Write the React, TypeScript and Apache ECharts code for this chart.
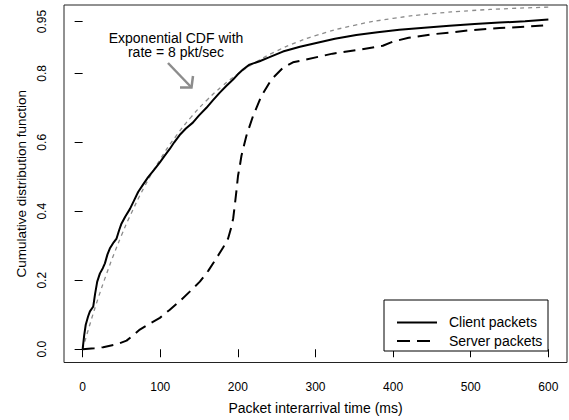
import React, { useEffect, useRef } from "react";
import * as echarts from "echarts";

const xTicks = [0, 100, 200, 300, 400, 500, 600];
const yTicks = [0, 0.2, 0.4, 0.6, 0.8, 0.95];

const clientPackets: [number, number][] = [
  [0, 0], [2, 0.04], [4, 0.071], [7, 0.095], [9.4, 0.11], [13.7, 0.124], [16, 0.16],
  [18.8, 0.196], [22.3, 0.22], [26, 0.235], [28.7, 0.249], [32, 0.275], [35, 0.292],
  [40, 0.31], [43.7, 0.321], [47, 0.345], [50, 0.364], [55, 0.385], [61, 0.407],
  [66, 0.43], [71.5, 0.456], [78, 0.478], [84.4, 0.499], [92, 0.52], [99.5, 0.542],
  [106, 0.562], [112, 0.58], [118, 0.6], [125, 0.621], [133, 0.64], [142, 0.657],
  [150, 0.678], [159.5, 0.7], [168, 0.722], [176.7, 0.744], [185, 0.763], [193.8, 0.782],
  [200, 0.797], [206.6, 0.811], [215, 0.825], [228, 0.835], [240, 0.846], [258, 0.863],
  [280, 0.877], [301, 0.888], [325, 0.9], [352.5, 0.911], [380, 0.919], [408, 0.926],
  [440, 0.932], [472.6, 0.9375], [505, 0.943], [537, 0.947], [570, 0.951], [600, 0.956],
];

const serverPackets: [number, number][] = [
  [0, 0], [15, 0.003], [26.5, 0.006], [43.7, 0.014], [56.6, 0.025], [65, 0.04],
  [73.7, 0.057], [86, 0.074], [99.5, 0.091], [112, 0.114], [125, 0.139], [138, 0.167],
  [151, 0.196], [162, 0.228], [172.4, 0.264], [181, 0.295], [187.4, 0.321], [191.7, 0.355],
  [194, 0.38], [196, 0.417], [198, 0.456], [200.2, 0.503], [202.4, 0.53], [204.6, 0.561],
  [208, 0.592], [211, 0.619], [219.5, 0.676], [230.3, 0.734], [243.2, 0.782], [258, 0.816],
  [271, 0.832], [288, 0.84], [322, 0.857], [355, 0.868], [386.7, 0.88], [400, 0.892],
  [420, 0.903], [450, 0.913], [472.6, 0.918], [500, 0.925], [537, 0.931], [570, 0.935],
  [600, 0.94],
];

const exponentialCdf: [number, number][] = [
  [0, 0], [10, 0.0769], [20, 0.1479], [30, 0.2134], [40, 0.2739], [50, 0.3297],
  [60, 0.3812], [80, 0.4727], [100, 0.5507], [120, 0.6171], [140, 0.6737], [160, 0.722],
  [180, 0.7631], [200, 0.7981], [225, 0.8347], [250, 0.8647], [275, 0.8892], [300, 0.9093],
  [350, 0.9392], [400, 0.9592], [450, 0.9727], [500, 0.9817], [550, 0.9877], [600, 0.9918],
];

const FONT = "'Liberation Sans', Arial, Helvetica, sans-serif";

export default function App() {
  const ref = useRef<HTMLDivElement>(null);
  useEffect(() => {
    document.body.style.margin = "0";
    if (!ref.current) return;
    const chart = echarts.init(ref.current, undefined, { renderer: "svg" });
    chart.setOption({
      animation: false,
      backgroundColor: "#fff",
      textStyle: { fontFamily: FONT },
      grid: {
        left: 64, right: 2, top: 5, bottom: 55.5,
        show: true, borderColor: "#222", borderWidth: 1, backgroundColor: "transparent",
      },
      xAxis: {
        type: "value", min: -24, max: 624,
        name: "Packet interarrival time (ms)", nameLocation: "middle", nameGap: 38.5,
        nameTextStyle: { fontSize: 14, color: "#000", fontFamily: FONT },
        axisLine: { show: false },
        splitLine: { show: false },
        axisTick: { show: true, inside: false, length: 8, lineStyle: { color: "#000" }, customValues: xTicks },
        axisLabel: { fontSize: 12, color: "#000", margin: 18, fontFamily: FONT, customValues: xTicks },
      },
      yAxis: {
        type: "value", min: -0.0384, max: 0.998,
        name: "Cumulative distribution function", nameLocation: "middle", nameGap: 28,
        nameTextStyle: { fontSize: 13.5, color: "#000", fontFamily: FONT },
        axisLine: { show: false },
        splitLine: { show: false },
        axisTick: { show: true, inside: false, length: 8, lineStyle: { color: "#000" }, customValues: yTicks },
        axisLabel: {
          fontSize: 12, color: "#000", margin: 16, rotate: 90, fontFamily: FONT,
          customValues: yTicks,
          formatter: (v: number) => (Math.abs(v - 0.95) < 1e-9 ? "0.95" : v.toFixed(1)),
        },
      },
      series: [
        {
          name: "Exponential CDF", type: "line", data: exponentialCdf, symbol: "none", smooth: true,
          lineStyle: { color: "#8c8c8c", width: 1.3, type: [4, 4] }, z: 2,
        },
        {
          name: "Client packets", type: "line", data: clientPackets, symbol: "none",
          lineStyle: { color: "#000", width: 2, type: "solid" }, z: 3,
        },
        {
          name: "Server packets", type: "line", data: serverPackets, symbol: "none",
          lineStyle: { color: "#000", width: 2, type: [12, 7] }, z: 3,
        },
      ],
      graphic: [
        {
          type: "text", x: 176, y: 44.75,
          style: {
            text: "Exponential CDF with\nrate = 8 pkt/sec", fill: "#000", font: `14px ${FONT}`,
            textAlign: "center", textVerticalAlign: "middle", lineHeight: 14.5,
          },
        },
        {
          type: "line", shape: { x1: 168, y1: 63, x2: 191.5, y2: 87.5 },
          style: { stroke: "#8c8c8c", lineWidth: 2.5 },
        },
        {
          type: "polyline", shape: { points: [[180, 87.5], [191.5, 87.5], [193, 76]] },
          style: { stroke: "#8c8c8c", lineWidth: 2.5, fill: null },
        },
        {
          type: "rect", shape: { x: 384, y: 300, width: 164, height: 51 },
          style: { stroke: "#000", lineWidth: 1, fill: "#fff" }, z: 10,
        },
        {
          type: "line", shape: { x1: 397, y1: 322.5, x2: 437, y2: 322.5 },
          style: { stroke: "#000", lineWidth: 2 }, z: 11,
        },
        {
          type: "line", shape: { x1: 397, y1: 341, x2: 437, y2: 341 },
          style: { stroke: "#000", lineWidth: 2, lineDash: [13, 7] }, z: 11,
        },
        {
          type: "text", x: 449, y: 322, z: 11,
          style: { text: "Client packets", fill: "#000", font: `14px ${FONT}`, textAlign: "left", textVerticalAlign: "middle" },
        },
        {
          type: "text", x: 449, y: 340.5, z: 11,
          style: { text: "Server packets", fill: "#000", font: `14px ${FONT}`, textAlign: "left", textVerticalAlign: "middle" },
        },
      ],
    });
    return () => chart.dispose();
  }, []);
  return <div ref={ref} style={{ width: 569, height: 420 }} />;
}
